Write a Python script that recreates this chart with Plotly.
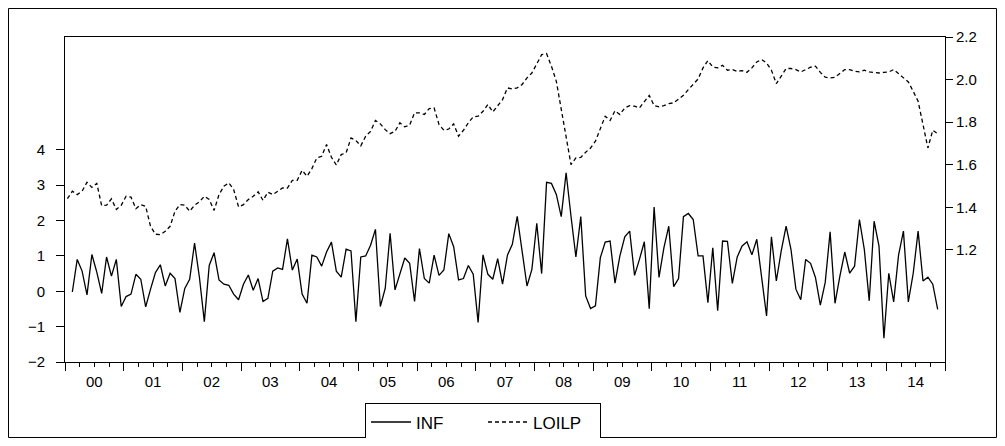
import plotly.graph_objects as go

# Monthly series: LOILP from 2000M01, INF from 2000M02, both to 2014M11
loilp_start_year = 2000
loilp_start_month = 1
inf_start_year = 2000
inf_start_month = 2

inf = [
    -0.02, 0.90, 0.57, -0.10, 1.04, 0.54, -0.06, 0.97, 0.43, 0.90, -0.43,
    -0.15, -0.08, 0.48, 0.34, -0.44, 0.06, 0.53, 0.75, 0.15, 0.51, 0.36, -0.60,
    0.08, 0.34, 1.36, 0.39, -0.86, 0.73, 1.09, 0.32, 0.20, 0.17, -0.08, -0.24,
    0.20, 0.46, 0.03, 0.36, -0.29, -0.20, 0.57, 0.66, 0.62, 1.48, 0.60, 0.91,
    -0.08, -0.34, 1.02, 0.97, 0.71, 1.11, 1.39, 0.57, 0.40, 1.19, 1.14, -0.86,
    0.97, 1.00, 1.30, 1.75, -0.43, 0.08, 1.64, 0.04, 0.48, 0.94, 0.79, -0.29,
    1.21, 0.36, 0.23, 1.02, 0.45, 0.60, 1.63, 1.26, 0.32, 0.36, 0.73, 0.48,
    -0.88, 1.03, 0.48, 0.34, 0.92, 0.20, 1.02, 1.33, 2.12, 1.18, 0.15, 0.62,
    1.92, 0.50, 3.08, 3.05, 2.74, 2.11, 3.35, 2.12, 0.97, 2.11, -0.13, -0.49,
    -0.41, 0.95, 1.39, 1.42, 0.23, 1.00, 1.54, 1.70, 0.45, 0.90, 1.40, -0.49,
    2.38, 0.39, 1.23, 1.84, 0.13, 0.36, 2.11, 2.20, 2.03, 1.00, 1.00, -0.32,
    1.23, -0.55, 1.42, 1.41, 0.22, 0.97, 1.28, 1.40, 1.03, 1.47, 0.39, -0.70,
    1.54, 0.29, 1.14, 1.84, 1.18, 0.06, -0.24, 0.90, 0.79, 0.39, -0.39, 0.25,
    1.68, -0.34, 0.43, 1.11, 0.51, 0.71, 2.03, 1.18, -0.27, 1.98, 1.28, -1.33,
    0.51, -0.30, 1.02, 1.70, -0.30, 0.51, 1.70, 0.29, 0.40, 0.20, -0.51,
]

loilp = [
    1.441, 1.476, 1.460, 1.476, 1.518, 1.494, 1.513, 1.408, 1.410, 1.440, 1.390, 1.410,
    1.452, 1.448, 1.394, 1.413, 1.405, 1.311, 1.274, 1.272, 1.288, 1.311, 1.382, 1.413,
    1.410, 1.382, 1.410, 1.426, 1.452, 1.437, 1.386, 1.460, 1.499, 1.515, 1.484, 1.402,
    1.413, 1.437, 1.452, 1.473, 1.433, 1.471, 1.460, 1.476, 1.491, 1.491, 1.527, 1.527,
    1.574, 1.546, 1.582, 1.632, 1.640, 1.695, 1.635, 1.599, 1.648, 1.656, 1.726, 1.714,
    1.689, 1.734, 1.757, 1.808, 1.792, 1.765, 1.746, 1.757, 1.797, 1.778, 1.786, 1.844,
    1.844, 1.836, 1.864, 1.867, 1.789, 1.762, 1.768, 1.792, 1.734, 1.762, 1.797, 1.825,
    1.828, 1.851, 1.883, 1.848, 1.880, 1.906, 1.961, 1.956, 1.961, 1.977, 2.008, 2.031,
    2.074, 2.117, 2.122, 2.063, 1.992, 1.859, 1.718, 1.601, 1.632, 1.635, 1.659, 1.679,
    1.711, 1.765, 1.828, 1.808, 1.854, 1.836, 1.867, 1.878, 1.875, 1.867, 1.898, 1.926,
    1.878, 1.872, 1.878, 1.887, 1.891, 1.909, 1.926, 1.953, 1.977, 2.003, 2.055, 2.089,
    2.059, 2.055, 2.067, 2.044, 2.047, 2.039, 2.042, 2.034, 2.055, 2.083, 2.094, 2.078,
    2.044, 1.981, 2.016, 2.052, 2.052, 2.047, 2.036, 2.047, 2.058, 2.063, 2.034, 2.011,
    2.008, 2.011, 2.031, 2.047, 2.047, 2.039, 2.036, 2.044, 2.036, 2.034, 2.031, 2.034,
    2.036, 2.047, 2.027, 2.008, 1.989, 1.945, 1.898, 1.789, 1.679, 1.762, 1.746,
]

years = list(range(2000, 2015))
year_labels = ["%02d" % (y % 100) for y in years]
left_ticks = [-2, -1, 0, 1, 2, 3, 4]
right_ticks = [1.2, 1.4, 1.6, 1.8, 2.0, 2.2]


def month_positions(start_year, start_month, n):
    out = []
    for k in range(n):
        m = (start_month - 1) + k
        out.append(start_year + (m + 0.5) / 12.0)
    return out


x_inf = month_positions(inf_start_year, inf_start_month, len(inf))
x_loilp = month_positions(loilp_start_year, loilp_start_month, len(loilp))

FONT = "Arial, Liberation Sans, Helvetica, sans-serif"
FS = 15

fig = go.Figure()
fig.add_trace(go.Scatter(
    x=x_inf, y=inf, name="INF", mode="lines",
    line=dict(color="black", width=1.3),
    xaxis="x", yaxis="y",
))
fig.add_trace(go.Scatter(
    x=x_loilp, y=loilp, name="LOILP", mode="lines",
    line=dict(color="black", width=1.3, dash="4px,3px"),
    xaxis="x", yaxis="y2",
))
# invisible helper trace so the label axis is drawn
fig.add_trace(go.Scatter(
    x=[years[0]], y=[None], xaxis="x2", yaxis="y",
    showlegend=False, hoverinfo="skip", mode="lines",
))

x_lo, x_hi = years[0], years[-1] + 1

fig.update_layout(
    width=989, height=430,
    margin=dict(l=57, r=52, t=29, b=76, pad=0, autoexpand=False),
    paper_bgcolor="white", plot_bgcolor="white",
    font=dict(family=FONT, size=FS, color="black"),
    showlegend=True,
    legend=dict(
        orientation="h", x=0.475, y=-0.186, xanchor="center", yanchor="middle",
        bordercolor="black", borderwidth=1, bgcolor="white",
        font=dict(family=FONT, size=17), itemwidth=40,
        entrywidth=62, entrywidthmode="pixels",
        tracegroupgap=0,
    ),
    xaxis=dict(
        range=[x_lo, x_hi], showgrid=False, zeroline=False,
        showline=True, linecolor="black", linewidth=1, mirror=True,
        tickmode="array", tickvals=years + [x_hi], showticklabels=False,
        ticks="outside", ticklen=8, tickcolor="black", tickwidth=1,
        minor=dict(tickmode="array",
                   tickvals=[y + q / 4 for y in years for q in (1, 2, 3)],
                   ticks="outside", ticklen=4, tickcolor="black", tickwidth=1),
    ),
    xaxis2=dict(
        range=[x_lo, x_hi], overlaying="x", anchor="y", side="bottom",
        showgrid=False, zeroline=False, showline=False,
        tickmode="array", tickvals=[y + 0.5 for y in years], ticktext=year_labels,
        ticks="", ticklen=0, tickfont=dict(family=FONT, size=FS),
        ticklabelstandoff=9,
    ),
    yaxis=dict(
        range=[-2, 7.19], showgrid=False, zeroline=False,
        showline=True, linecolor="black", linewidth=1,
        tickmode="array", tickvals=left_ticks,
        ticks="outside", ticklen=8, tickcolor="black",
        tickfont=dict(family=FONT, size=FS), ticklabelstandoff=8,
    ),
    yaxis2=dict(
        range=[0.674, 2.2], overlaying="y", side="right", anchor="x",
        showgrid=False, zeroline=False,
        showline=True, linecolor="black", linewidth=1,
        tickmode="array", tickvals=right_ticks,
        ticktext=["%.1f" % v for v in right_ticks],
        ticks="outside", ticklen=7, tickcolor="black",
        tickfont=dict(family=FONT, size=FS),
    ),
    shapes=[dict(
        type="rect", xref="paper", yref="paper",
        x0=-0.0642, x1=1.0585, y0=-0.2323, y1=1.0877,
        line=dict(color="black", width=1), layer="below",
    )],
)

fig.write_html("out.html")
